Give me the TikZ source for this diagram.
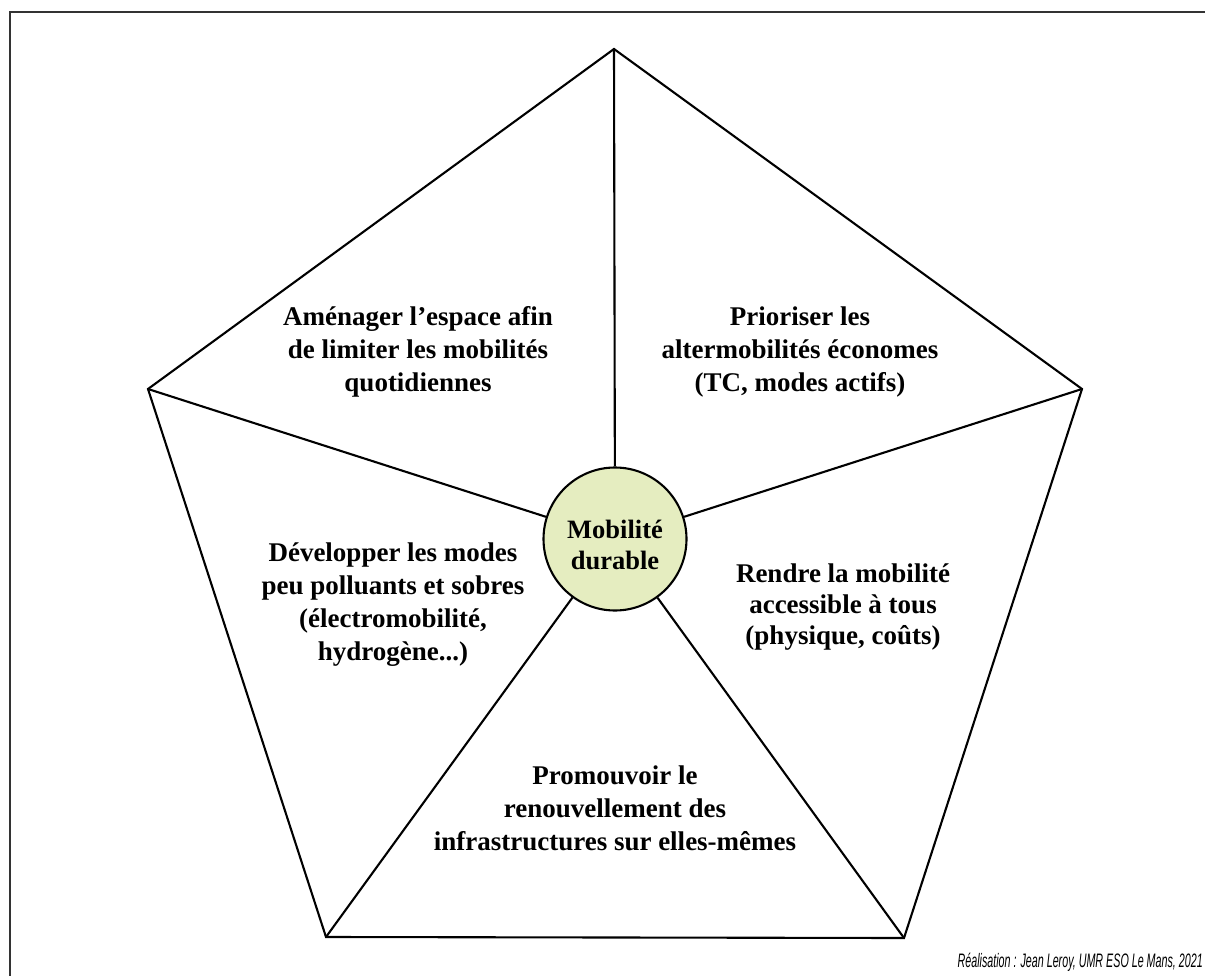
\documentclass[tikz,border=0pt]{standalone}
\usepackage{fontspec}
\setmainfont{Liberation Serif}
\newfontfamily\creditfont{Liberation Sans}
\begin{document}
\begin{tikzpicture}[x=1pt,y=-1pt,
  edge/.style={line width=2.1pt, black, line join=miter},
  lbl/.style={align=center, font=\bfseries\fontsize{27}{33}\selectfont, inner sep=0pt},
  hub/.style={circle, draw=black, line width=2.1pt, fill=hubfill, minimum size=143pt, inner sep=0pt},
  hubtext/.style={align=center, inner sep=0pt, font=\bfseries\fontsize{26.5}{31}\selectfont},
]
\definecolor{hubfill}{RGB}{229,237,192}
\useasboundingbox (0,0) rectangle (1205,976);
\fill[white] (0,0) rectangle (1205,976);
\draw[line width=2pt, black!80] (9.5,976) -- (9.5,12.5) -- (1205,12.5);
% pentagon vertices
\coordinate (T) at (614,49);
\coordinate (L) at (148,389);
\coordinate (R) at (1082,389);
\coordinate (BL) at (326,937);
\coordinate (BR) at (904,938);
\draw[edge] (T) -- (R) -- (BR) -- (BL) -- (L) -- cycle;
\node[hub] (c) at (615,539) {};
\node[hubtext] (ct) at (615,545) {Mobilité\\durable};
\draw[edge] (T) -- (c);
\draw[edge] (L) -- (c);
\draw[edge] (R) -- (c);
\draw[edge] (BL) -- (c);
\draw[edge] (BR) -- (c);
\node[lbl] (t1) at (418,352) {Aménager l’espace afin\\de limiter les mobilités\\quotidiennes};
\node[lbl] (t2) at (800,352) {Prioriser les\\altermobilités économes\\(TC, modes actifs)};
\node[lbl] (t3) at (393,605) {Développer les modes\\peu polluants et sobres\\(électromobilité,\\hydrogène...)};
\node[lbl, font=\bfseries\fontsize{27}{31}\selectfont] (t4) at (843,607) {Rendre la mobilité\\accessible à tous\\(physique, coûts)};
\node[lbl] (t5) at (615,808) {Promouvoir le\\renouvellement des\\infrastructures sur elles-mêmes};
\node[anchor=base east, inner sep=0pt] (cr) at (1203,967) {\scalebox{0.55}[1]{\creditfont\itshape\fontsize{19.5}{21}\selectfont Réalisation : Jean Leroy, UMR ESO Le Mans, 2021}};
\end{tikzpicture}
\end{document}
